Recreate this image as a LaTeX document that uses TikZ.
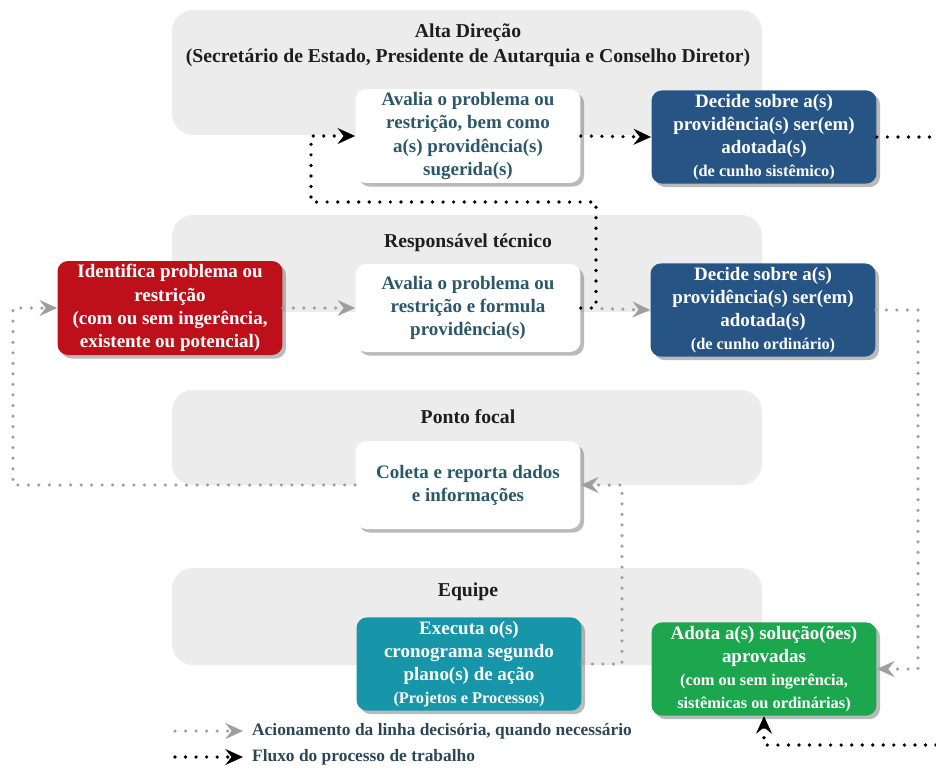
\documentclass[tikz,border=0pt]{standalone}
\usepackage{fontspec}
\setmainfont{Liberation Serif}
\usepackage{xcolor}
\usepackage{tikz}
\usetikzlibrary{arrows.meta,shadows}
\definecolor{bandgray}{RGB}{236,236,236}
\definecolor{titleblack}{RGB}{30,30,30}
\definecolor{boxtext}{RGB}{42,88,106}
\definecolor{legendtext}{RGB}{44,70,88}
\definecolor{boxred}{RGB}{190,16,26}
\definecolor{boxblue}{RGB}{38,84,133}
\definecolor{boxteal}{RGB}{22,150,168}
\definecolor{boxgreen}{RGB}{28,166,78}
\definecolor{triggray}{RGB}{158,158,158}

\tikzset{
  card/.style={rounded corners=6pt, align=center, inner sep=2pt,
    minimum width=4.5cm, minimum height=1.76cm,
    font=\bfseries\fontsize{10.8}{13.2}\selectfont,
    drop shadow={shadow xshift=2pt, shadow yshift=-2pt, opacity=0.45, fill=black!60}},
  whitecard/.style={card, fill=white, text=boxtext},
  redcard/.style={card, fill=boxred, text=white},
  bluecard/.style={card, fill=boxblue, text=white},
  tealcard/.style={card, fill=boxteal, text=white},
  greencard/.style={card, fill=boxgreen, text=white},
  bandtitle/.style={align=center, text=titleblack, font=\bfseries\fontsize{11.2}{14.5}\selectfont},
  legendtext/.style={anchor=west, inner sep=5pt, text=legendtext, font=\bfseries\fontsize{9.9}{11}\selectfont},
  trigline/.style={triggray, line width=2pt, line cap=round, dash pattern=on 0pt off 6pt,
    -{Stealth[length=10pt, width=9pt, inset=3.5pt]}},
  workline/.style={black, line width=2.1pt, line cap=round, dash pattern=on 0pt off 6pt,
    -{Stealth[length=10pt, width=9pt, inset=3.5pt]}},
  workdots/.style={black, line width=2.1pt, line cap=round, dash pattern=on 0pt off 6pt}
}
\newcommand{\smallline}[1]{{\fontsize{9.3}{11.5}\selectfont #1}}

\begin{document}
\begin{tikzpicture}[x=0.02cm, y=-0.02cm]
\useasboundingbox (0,0) rectangle (936,769);

\fill[bandgray, rounded corners=12pt] (172,10) rectangle (762,135);
\fill[bandgray, rounded corners=12pt] (172,215) rectangle (762,312);
\fill[bandgray, rounded corners=12pt] (172,390) rectangle (762,485);
\fill[bandgray, rounded corners=12pt] (172,568) rectangle (762,665);

\node (titAD) at (468,45) [bandtitle] {Alta Direção\\(Secretário de Estado, Presidente de Autarquia e Conselho Diretor)};
\node (titRT) at (468,243) [bandtitle] {Responsável técnico};
\node (titPF) at (468,417) [bandtitle] {Ponto focal};
\node (titEq) at (468,592) [bandtitle] {Equipe};

\coordinate (outAD) at (936,137);
\coordinate (escR) at (596,202);
\coordinate (escL) at (311,202);
\coordinate (retL) at (13,308);
\coordinate (retR) at (918,500);
\coordinate (retC) at (622,570);
\coordinate (inBR) at (936,745);

\node (avAD) at (468,136) [whitecard] {Avalia o problema ou\\restrição, bem como\\a(s) providência(s)\\sugerida(s)};
\node (decAD) at (764,137) [bluecard] {Decide sobre a(s)\\providência(s) ser(em)\\adotada(s)\\\smallline{(de cunho sistêmico)}};

\node (ident) at (170,308) [redcard] {Identifica problema ou\\restrição\\(com ou sem ingerência,\\existente ou potencial)};
\node (avRT) at (468,308) [whitecard] {Avalia o problema ou\\restrição e formula\\providência(s)};
\node (decRT) at (763,310) [bluecard] {Decide sobre a(s)\\providência(s) ser(em)\\adotada(s)\\\smallline{(de cunho ordinário)}};

\node (coleta) at (468,485) [whitecard] {Coleta e reporta dados\\e informações};

\node (exec) at (469,664) [tealcard] {Executa o(s)\\cronograma segundo\\plano(s) de ação\\\smallline{(Projetos e Processos)}};
\node (adota) at (764,669) [greencard] {Adota a(s) solução(ões)\\aprovadas\\\smallline{(com ou sem ingerência,}\\\smallline{sistêmicas ou ordinárias)}};

% trigger lines first, work flow on top
\draw[trigline] (ident.east) -- (avRT.west);
\draw[trigline] (avRT.east) -- (decRT.west);
\draw[trigline] (coleta.west) -| (retL) -- (ident.west);
\draw[trigline] (decRT.east) -| (retR) |- (adota.east);
\draw[trigline] (exec.east) -| (retC) |- (coleta.east);

\draw[workline] (avAD.east) -- (decAD.west);
\draw[workdots] (decAD.east) -- (outAD);
\draw[workline] (avRT.east) -| (escR) -- (escL) |- (avAD.west);
\draw[workline] (inBR) -| (adota.south);

\node (legTrig) at (243,731) [legendtext] {Acionamento da linha decisória, quando necessário};
\node (legWork) at (243,757) [legendtext] {Fluxo do processo de trabalho};
\coordinate (legTrigS) at (175,731);
\coordinate (legWorkS) at (175,757);
\draw[trigline] (legTrigS) -- (legTrig.west);
\draw[workline] (legWorkS) -- (legWork.west);
\end{tikzpicture}
\end{document}
